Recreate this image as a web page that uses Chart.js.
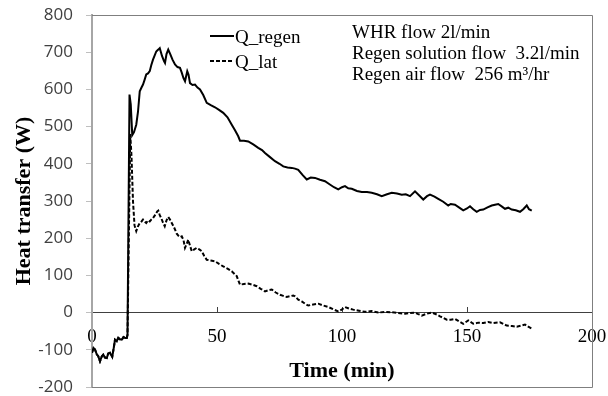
<!DOCTYPE html>
<html>
<head>
<meta charset="utf-8">
<script src="https://cdn.jsdelivr.net/npm/chart.js@4.4.1/dist/chart.umd.min.js"></script>
<style>
  body { margin: 0; background: #fff; }
</style>
</head>
<body>
<canvas id="chart-canvas" width="608" height="396"></canvas>
<script>
// warm-up part, both series are on top of each other here
const warmupTime = [0, 0.6, 1.2, 1.9, 2.5, 3.2, 3.9, 4.5, 5.2, 5.9, 6.5, 7.2, 8.1, 8.7, 9.2, 9.9, 10.5, 11.2, 11.9, 12.6, 13.2, 13.9, 14.2]
const warmupW = [-108, -95, -99, -112, -117, -131, -118, -113, -121, -122, -110, -108, -119, -95, -73, -77, -68, -72, -73, -66, -68, -68, -60]

const regenTime = [15.0, 15.5, 16.1, 16.8, 17.7, 18.4, 19.1, 19.8, 20.4, 21.0, 21.7, 22.4, 23.1, 23.7, 24.4, 25.0, 25.7, 26.5, 27.1, 28.0, 28.8, 29.2, 29.8, 30.5, 31.3, 32.2, 33.2, 34.2, 35.2, 35.9, 36.6, 37.2, 38.1, 38.6, 39.2, 40.2, 41.2, 42.2, 43.2, 44.5, 45.9, 47.5, 49.2, 50.8, 52.5, 54.2, 55.9, 57.2, 58.5, 59.2, 60.8, 62.5, 64.5, 66.5, 68.0, 69.2, 71.2, 73.2, 75.0, 76.5, 78.2, 79.9, 81.2, 82.5, 84.2, 85.9, 87.5, 89.2, 91.2, 93.2, 95.0, 96.8, 98.5, 100.0, 101.2, 102.5, 103.9, 106.0, 107.9, 110.0, 111.9, 114.0, 115.9, 118.0, 119.9, 122.0, 123.9, 125.5, 127.2, 129.2, 131.0, 132.5, 134.0, 135.2, 137.0, 138.5, 140.5, 142.5, 143.5, 145.2, 147.2, 148.5, 150.0, 151.2, 152.5, 153.9, 155.2, 156.5, 158.2, 159.9, 161.2, 162.5, 164.0, 165.2, 166.5, 167.9, 169.5, 171.2, 172.5, 173.9, 174.8, 175.9]
const regenW = [586, 560, 477, 485, 505, 540, 595, 605, 613, 625, 640, 643, 649, 665, 680, 690, 702, 707, 711, 690, 676, 671, 695, 707, 695, 680, 667, 660, 658, 645, 630, 622, 649, 640, 617, 612, 613, 605, 600, 585, 564, 558, 552, 545, 537, 525, 505, 490, 474, 462, 462, 460, 452, 443, 437, 429, 418, 407, 400, 393, 390, 389, 387, 384, 370, 358, 363, 362, 357, 353, 345, 337, 331, 337, 340, 334, 333, 327, 324, 324, 322, 318, 313, 318, 322, 320, 317, 318, 313, 326, 314, 304, 313, 317, 312, 306, 298, 288, 292, 290, 281, 275, 280, 286, 278, 271, 276, 277, 283, 288, 290, 292, 285, 279, 282, 277, 275, 271, 278, 288, 278, 274]

const latTime = [15.3, 15.8, 16.4, 17.0, 17.7, 18.4, 19.1, 19.8, 20.4, 21.0, 21.7, 22.4, 23.1, 23.7, 24.4, 25.2, 26.1, 26.5, 27.1, 27.7, 28.4, 29.1, 29.8, 30.5, 31.2, 31.9, 32.9, 33.9, 34.5, 35.2, 35.9, 36.6, 37.2, 37.9, 38.5, 39.2, 39.9, 40.9, 41.9, 42.9, 43.9, 44.9, 45.9, 47.5, 49.2, 50.8, 52.5, 54.2, 55.9, 57.0, 57.9, 58.6, 59.2, 60.8, 62.5, 64.2, 65.9, 67.5, 69.2, 70.5, 71.9, 73.5, 75.2, 76.5, 77.9, 79.2, 80.5, 81.2, 82.5, 83.9, 85.2, 86.5, 88.5, 90.5, 92.5, 94.5, 96.5, 98.5, 99.9, 101.2, 102.8, 104.5, 106.8, 109.2, 111.8, 114.5, 117.2, 119.9, 122.5, 125.2, 127.2, 129.2, 130.5, 131.9, 133.9, 135.9, 137.9, 139.2, 140.5, 141.9, 143.5, 145.2, 146.9, 148.5, 150.5, 152.5, 154.5, 156.5, 158.5, 160.5, 163.2, 165.9, 168.0, 169.9, 171.5, 173.2, 174.5, 175.9]
const latW = [480, 420, 299, 235, 219, 232, 241, 245, 250, 245, 241, 248, 245, 250, 254, 262, 272, 274, 262, 254, 242, 232, 248, 257, 250, 241, 228, 212, 207, 203, 205, 195, 174, 185, 196, 180, 165, 170, 174, 170, 165, 152, 142, 140, 138, 131, 124, 118, 111, 104, 98, 85, 75, 77, 78, 75, 71, 64, 57, 60, 62, 54, 48, 45, 42, 44, 46, 44, 35, 30, 24, 19, 22, 24, 19, 15, 9, 3, 8, 15, 11, 8, 5, 2, 4, 0, 2, 1, -1, -3, -1, 0, -4, -8, -3, 0, -5, -10, -14, -19, -19, -17, -24, -30, -21, -30, -27, -28, -25, -28, -26, -35, -36, -38, -35, -32, -38, -43]

const xTicks = [0, 50, 100, 150, 200]
const yTicks = [-200, -100, 0, 100, 200, 300, 400, 500, 600, 700, 800]
const notes = ['WHR flow 2l/min', 'Regen solution flow  3.2l/min', 'Regen air flow  256 m\u00b3/hr']

const serif = '"Liberation Serif", "Times New Roman", serif'

function toPoints(times, values) {
  return times.map((t, i) => ({ x: t, y: values[i] }))
}

const regenPoints = toPoints(warmupTime.concat(regenTime), warmupW.concat(regenW))
const latPoints = toPoints(warmupTime.concat(latTime), warmupW.concat(latW))

// box around the plot area
const plotBox = {
  id: 'plotBox',
  afterDraw(chart) {
    const { ctx, chartArea: a } = chart
    ctx.save()
    ctx.strokeStyle = '#7f7f7f'
    ctx.lineWidth = 1
    ctx.beginPath()
    ctx.moveTo(a.left, a.top + 0.5)
    ctx.lineTo(a.right + 0.5, a.top + 0.5)
    ctx.lineTo(a.right + 0.5, a.bottom + 0.5)
    ctx.lineTo(a.left, a.bottom + 0.5)
    ctx.stroke()
    ctx.restore()
  }
}

// legend + run conditions, drawn inside the plot like the excel original
const insideText = {
  id: 'insideText',
  afterDatasetsDraw(chart) {
    const ctx = chart.ctx
    ctx.save()
    ctx.font = '19px ' + serif
    ctx.fillStyle = '#000'
    ctx.textBaseline = 'alphabetic'
    chart.data.datasets.forEach((ds, i) => {
      const y = 43 + i * 25
      ctx.beginPath()
      ctx.setLineDash(ds.borderDash || [])
      ctx.strokeStyle = ds.borderColor
      ctx.lineWidth = ds.borderWidth
      ctx.moveTo(210, y - 7)
      ctx.lineTo(234, y - 7)
      ctx.stroke()
      ctx.setLineDash([])
      ctx.fillText(ds.label, 235, y)
    })
    notes.forEach((line, i) => {
      ctx.fillText(line, 352, 38 + i * 21)
    })
    ctx.restore()
  }
}

const ctx = document.querySelector('#chart-canvas')
new Chart(ctx, {
  type: 'line',
  data: {
    datasets: [
      {
        label: 'Q_regen',
        data: regenPoints,
        borderColor: '#000',
        borderWidth: 2,
        pointRadius: 0,
        tension: 0,
        fill: false
      },
      {
        label: 'Q_lat',
        data: latPoints,
        borderColor: '#000',
        borderWidth: 2,
        borderDash: [4, 2],
        pointRadius: 0,
        tension: 0,
        fill: false
      }
    ]
  },
  options: {
    responsive: false,
    animation: false,
    layout: { padding: { top: 15, right: 16, bottom: 9, left: 0 } },
    plugins: {
      legend: { display: false },
      tooltip: { enabled: false }
    },
    scales: {
      x: {
        type: 'linear',
        position: { y: 0 },
        min: 0,
        max: 200,
        afterBuildTicks: s => { s.ticks = xTicks.map(v => ({ value: v })) },
        afterFit: s => { s.paddingLeft = 0; s.paddingRight = 0 },
        border: { display: true, color: '#404040', width: 1 },
        grid: { drawOnChartArea: false, drawTicks: true, tickLength: -6, color: '#404040' },
        ticks: { font: { family: serif, size: 19 }, color: '#000', padding: 19, maxRotation: 0 },
        title: {
          display: true,
          text: 'Time (min)',
          color: '#000',
          font: { family: serif, size: 22, weight: 'bold' },
          padding: { top: -9, bottom: 0 }
        }
      },
      y: {
        type: 'linear',
        position: 'left',
        min: -200,
        max: 800,
        afterBuildTicks: s => { s.ticks = yTicks.map(v => ({ value: v })) },
        afterFit: s => { s.width = 92; s.paddingTop = 0; s.paddingBottom = 0 },
        border: { display: true, color: '#a6a6a6', width: 2 },
        grid: { drawOnChartArea: false, drawTicks: true, tickLength: 6, color: '#bfbfbf' },
        ticks: { font: { family: '"Open Sans", sans-serif', size: 17 }, color: '#404040', padding: 13 },
        title: {
          display: true,
          text: 'Heat transfer (W)',
          color: '#000',
          font: { family: serif, size: 22, weight: 'bold' },
          padding: { top: 11, bottom: 0 }
        }
      }
    }
  },
  plugins: [plotBox, insideText]
})
</script>
</body>
</html>
